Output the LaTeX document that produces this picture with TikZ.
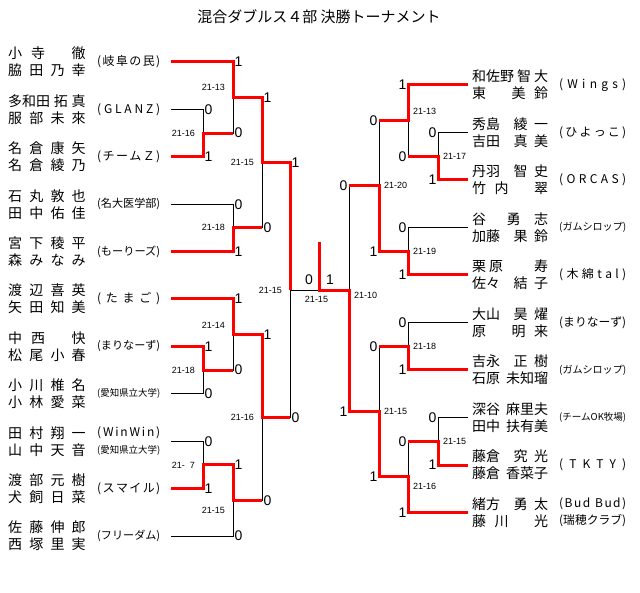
\documentclass[tikz,border=0pt]{standalone}
\usepackage{fontspec}
\usepackage{graphicx}
\newfontfamily\jp{Noto Sans CJK JP}
\newfontfamily\numfont{Liberation Sans}
\newcommand\hs{\hfil}
\newcommand\lnm[1]{\makebox[77.5pt][s]{#1}}
\newcommand\rnm[1]{\makebox[76pt][s]{#1}}
\makeatletter
\def\spread@#1#2\@nil{#1\ifx\relax#2\relax\else\hfil\spread@#2\@nil\fi}
\newcommand\team[2]{\sbox0{#2}\ifdim\wd0>#1\relax\resizebox{#1}{!}{#2}\else\makebox[#1][s]{\spread@#2\@nil}\fi}
\makeatother
\begin{document}
\begin{tikzpicture}[x=1pt,y=-1pt,font=\jp]
  \tikzstyle{names}=[anchor=west,inner sep=0pt,align=left,font=\jp\fontsize{14}{17}\selectfont]
  \tikzstyle{teams}=[anchor=west,inner sep=0pt,align=left,font=\jp\fontsize{12}{17}\selectfont]
  \tikzstyle{lname}=[names,xshift=-163pt]
  \tikzstyle{lteam}=[teams,xshift=-74pt]
  \tikzstyle{rname}=[names,xshift=4pt]
  \tikzstyle{rteam}=[teams,xshift=91pt]
  \tikzstyle{line}=[draw=black,line width=0.9pt]
  \tikzstyle{win}=[draw=red,line width=3pt]
  \tikzstyle{res}=[font=\numfont\fontsize{14}{14}\selectfont,inner sep=1.5pt]
  \tikzstyle{lres}=[res,anchor=west]
  \tikzstyle{rres}=[res,anchor=east]
  \tikzstyle{score}=[font=\numfont\fontsize{9}{9}\selectfont,inner sep=0pt]
  \tikzstyle{lsc}=[score,anchor=east,xshift=-8pt]
  \tikzstyle{rsc}=[score,anchor=west,xshift=5pt]
  \fill[white] (0,0) rectangle (640,593);
  \useasboundingbox (0,0) rectangle (640,593);

  \node (title) at (319,17) {\fontsize{15}{15}\selectfont 混合ダブルス４部 決勝トーナメント};

  % entries
  \foreach \i in {1,...,11}
    \coordinate (e\i) at (171,{62+47.4*(\i-1)});
  \foreach \i in {1,...,10}
    \coordinate (r\i) at (468,{85+47.5*(\i-1)});

  % matches
  \coordinate (mA) at (203,133.1);
  \coordinate (mB) at (233,97.55);
  \coordinate (mC) at (262,162.7);
  \coordinate (mD) at (233,227.9);
  \coordinate (mE) at (203,370.1);
  \coordinate (mF) at (233,334.55);
  \coordinate (mG) at (203,464.9);
  \coordinate (mH) at (233,500.45);
  \coordinate (mI) at (262,417.5);
  \coordinate (mJ) at (290,290.1);
  \coordinate (rA) at (438,156.25);
  \coordinate (rB) at (408,120.6);
  \coordinate (rC) at (408,251.25);
  \coordinate (rD) at (379,185.9);
  \coordinate (rE) at (408,346.25);
  \coordinate (rF) at (438,441.25);
  \coordinate (rG) at (408,476.9);
  \coordinate (rH) at (379,411.6);
  \coordinate (rJ) at (349,290.1);
  \coordinate (fin) at (319.5,290.1);
  \coordinate (champ) at (319.5,242);

  % left players
  \node[lname] (ln1) at (e1) {\lnm{小\hs 寺\hs\hs\hs 徹}\\\lnm{脇\hs 田\hs 乃\hs 幸}};
  \node[lname] (ln2) at (e2) {\lnm{多和田\hs 拓\hs 真}\\\lnm{服\hs 部\hs 未\hs 來}};
  \node[lname] (ln3) at (e3) {\lnm{名\hs 倉\hs 康\hs 矢}\\\lnm{名\hs 倉\hs 綾\hs 乃}};
  \node[lname] (ln4) at (e4) {\lnm{石\hs 丸\hs 敦\hs 也}\\\lnm{田\hs 中\hs 佑\hs 佳}};
  \node[lname] (ln5) at (e5) {\lnm{宮\hs 下\hs 稜\hs 平}\\\lnm{森\hs み\hs な\hs み}};
  \node[lname] (ln6) at (e6) {\lnm{渡\hs 辺\hs 喜\hs 英}\\\lnm{矢\hs 田\hs 知\hs 美}};
  \node[lname] (ln7) at (e7) {\lnm{中\hs 西\hs\hs\hs 快}\\\lnm{松\hs 尾\hs 小\hs 春}};
  \node[lname] (ln8) at (e8) {\lnm{小\hs 川\hs 椎\hs 名}\\\lnm{小\hs 林\hs 愛\hs 菜}};
  \node[lname] (ln9) at (e9) {\lnm{田\hs 村\hs 翔\hs 一}\\\lnm{山\hs 中\hs 天\hs 音}};
  \node[lname] (ln10) at (e10) {\lnm{渡\hs 部\hs 元\hs 樹}\\\lnm{犬\hs 飼\hs 日\hs 菜}};
  \node[lname] (ln11) at (e11) {\lnm{佐\hs 藤\hs 伸\hs 郎}\\\lnm{西\hs 塚\hs 里\hs 実}};
  \node[lteam] (lt1) at (e1) {\team{63pt}{(岐阜の民)}};
  \node[lteam] (lt2) at (e2) {\team{63pt}{(GLANZ)}};
  \node[lteam] (lt3) at (e3) {\team{63pt}{(チームＺ)}};
  \node[lteam] (lt4) at (e4) {\team{63pt}{(名大医学部)}};
  \node[lteam] (lt5) at (e5) {\team{63pt}{(もーりーズ)}};
  \node[lteam] (lt6) at (e6) {\team{63pt}{(たまご)}};
  \node[lteam] (lt7) at (e7) {\team{63pt}{(まりなーず)}};
  \node[lteam] (lt8) at (e8) {\team{63pt}{(愛知県立大学)}};
  \node[lteam] (lt9) at (e9) {\team{63pt}{(WinWin)}\\\team{63pt}{(愛知県立大学)}};
  \node[lteam] (lt10) at (e10) {\team{63pt}{(スマイル)}};
  \node[lteam] (lt11) at (e11) {\team{63pt}{(フリーダム)}};

  % right players
  \node[rname] (rn1) at (r1) {\rnm{和佐野\hs 智\hs 大}\\\rnm{東\hs\hs\hs 美\hs 鈴}};
  \node[rname] (rn2) at (r2) {\rnm{秀島\hs\hs 綾\hs 一}\\\rnm{吉田\hs\hs 真\hs 美}};
  \node[rname] (rn3) at (r3) {\rnm{丹羽\hs\hs 智\hs 史}\\\rnm{竹\hs 内\hs\hs\hs 翠}};
  \node[rname] (rn4) at (r4) {\rnm{谷\hs\hs\hs 勇\hs\hs 志}\\\rnm{加藤\hs\hs 果\hs 鈴}};
  \node[rname] (rn5) at (r5) {\rnm{栗\hspace{3pt}原\hfill 寿}\\\rnm{佐々\hs\hs 結\hs 子}};
  \node[rname] (rn6) at (r6) {\rnm{大山\hs\hs 昊\hs 燿}\\\rnm{原\hs\hs\hs 明\hs 来}};
  \node[rname] (rn7) at (r7) {\rnm{吉永\hs\hs 正\hs 樹}\\\rnm{石原\hs 未知瑠}};
  \node[rname] (rn8) at (r8) {\rnm{深谷\hs 麻里夫}\\\rnm{田中\hs 扶有美}};
  \node[rname] (rn9) at (r9) {\rnm{藤倉\hs\hs 究\hs 光}\\\rnm{藤倉\hs 香菜子}};
  \node[rname] (rn10) at (r10) {\rnm{緒方\hs\hs 勇\hs 太}\\\rnm{藤\hs 川\hs\hs\hs 光}};
  \node[rteam] (rt1) at (r1) {\team{67pt}{(Wings)}};
  \node[rteam] (rt2) at (r2) {\team{67pt}{(ひよっこ)}};
  \node[rteam] (rt3) at (r3) {\team{67pt}{(ORCAS)}};
  \node[rteam] (rt4) at (r4) {\team{67pt}{(ガムシロップ)}};
  \node[rteam] (rt5) at (r5) {\team{67pt}{(木綿tal)}};
  \node[rteam] (rt6) at (r6) {\team{67pt}{(まりなーず)}};
  \node[rteam] (rt7) at (r7) {\team{67pt}{(ガムシロップ)}};
  \node[rteam] (rt8) at (r8) {\team{67pt}{(チームOK牧場)}};
  \node[rteam] (rt9) at (r9) {\team{67pt}{(TKTY)}};
  \node[rteam] (rt10) at (r10) {\team{67pt}{(Bud\,Bud)}\\\team{67pt}{(瑞穂クラブ)}};

  % bracket, left half
  \draw[line] (e2) -| (mA);  \draw[line] (e3) -| (mA);
  \draw[line] (e1) -| (mB);  \draw[line] (mA) -| (mB);
  \draw[line] (e4) -| (mD);  \draw[line] (e5) -| (mD);
  \draw[line] (mB) -| (mC);  \draw[line] (mD) -| (mC);
  \draw[line] (e7) -| (mE);  \draw[line] (e8) -| (mE);
  \draw[line] (e6) -| (mF);  \draw[line] (mE) -| (mF);
  \draw[line] (e9) -| (mG);  \draw[line] (e10) -| (mG);
  \draw[line] (mG) -| (mH);  \draw[line] (e11) -| (mH);
  \draw[line] (mF) -| (mI);  \draw[line] (mH) -| (mI);
  \draw[line] (mC) -| (mJ);  \draw[line] (mI) -| (mJ);
  \draw[line] (mJ) -- (fin);
  % bracket, right half
  \draw[line] (r2) -| (rA);  \draw[line] (r3) -| (rA);
  \draw[line] (r1) -| (rB);  \draw[line] (rA) -| (rB);
  \draw[line] (r4) -| (rC);  \draw[line] (r5) -| (rC);
  \draw[line] (rB) -| (rD);  \draw[line] (rC) -| (rD);
  \draw[line] (r6) -| (rE);  \draw[line] (r7) -| (rE);
  \draw[line] (r8) -| (rF);  \draw[line] (r9) -| (rF);
  \draw[line] (rF) -| (rG);  \draw[line] (r10) -| (rG);
  \draw[line] (rE) -| (rH);  \draw[line] (rG) -| (rH);
  \draw[line] (rD) -| (rJ);  \draw[line] (rH) -| (rJ);
  \draw[line] (rJ) -- (fin);

  % winners
  \draw[win] (e3) -| (mA) -- (mA -| mB);
  \draw[win] (e1) -| (mB) -| (mC) -| (mJ);
  \draw[win] (e5) -| (mD) -- (mD -| mC);
  \draw[win] (e7) -| (mE) -- (mE -| mF);
  \draw[win] (e6) -| (mF) -| (mI) -- (mI -| mJ);
  \draw[win] (e10) -| (mG) -| (mH) -- (mH -| mI);
  \draw[win] (r3) -| (rA) -- (rA -| rB);
  \draw[win] (r1) -| (rB) -- (rB -| rD);
  \draw[win] (r5) -| (rC) -| (rD) -- (rD -| rJ);
  \draw[win] (r7) -| (rE) -- (rE -| rH);
  \draw[win] (r9) -| (rF) -- (rF -| rG);
  \draw[win] (r10) -| (rG) -| (rH) -| (rJ) -- (fin) -- (champ);

  % results
  \node[lres] (A-u) at (mA |- e2) {0};
  \node[lres] (A-d) at (mA |- e3) {1};
  \node[lres] (B-u) at (mB |- e1) {1};
  \node[lres] (B-d) at (mB |- mA) {0};
  \node[lres] (D-u) at (mD |- e4) {0};
  \node[lres] (D-d) at (mD |- e5) {1};
  \node[lres] (C-u) at (mC |- mB) {1};
  \node[lres] (C-d) at (mC |- mD) {0};
  \node[lres] (E-u) at (mE |- e7) {1};
  \node[lres] (E-d) at (mE |- e8) {0};
  \node[lres] (F-u) at (mF |- e6) {1};
  \node[lres] (F-d) at (mF |- mE) {0};
  \node[lres] (G-u) at (mG |- e9) {0};
  \node[lres] (G-d) at (mG |- e10) {1};
  \node[lres] (H-u) at (mH |- mG) {1};
  \node[lres] (H-d) at (mH |- e11) {0};
  \node[lres] (I-u) at (mI |- mF) {1};
  \node[lres] (I-d) at (mI |- mH) {0};
  \node[lres] (J-u) at (mJ |- mC) {1};
  \node[lres] (J-d) at (mJ |- mI) {0};
  \node[rres] (rA-u) at (rA |- r2) {0};
  \node[rres] (rA-d) at (rA |- r3) {1};
  \node[rres] (rB-u) at (rB |- r1) {1};
  \node[rres] (rB-d) at (rB |- rA) {0};
  \node[rres] (rC-u) at (rC |- r4) {0};
  \node[rres] (rC-d) at (rC |- r5) {1};
  \node[rres] (rD-u) at (rD |- rB) {0};
  \node[rres] (rD-d) at (rD |- rC) {1};
  \node[rres] (rE-u) at (rE |- r6) {0};
  \node[rres] (rE-d) at (rE |- r7) {1};
  \node[rres] (rF-u) at (rF |- r8) {0};
  \node[rres] (rF-d) at (rF |- r9) {1};
  \node[rres] (rG-u) at (rG |- rF) {0};
  \node[rres] (rG-d) at (rG |- r10) {1};
  \node[rres] (rH-u) at (rH |- rE) {0};
  \node[rres] (rH-d) at (rH |- rG) {1};
  \node[rres] (rJ-u) at (rJ |- rD) {0};
  \node[rres] (rJ-d) at (rJ |- rH) {1};
  \node[res,anchor=south] (fin-l) at ([xshift=-10.5pt,yshift=4pt]fin) {0};
  \node[res,anchor=south] (fin-r) at ([xshift=10.5pt,yshift=4pt]fin) {1};

  % scores
  \node[lsc] (sA) at (mA) {21-16};
  \node[lsc,yshift=10pt] (sB) at (mB) {21-13};
  \node[lsc] (sC) at (mC) {21-15};
  \node[lsc] (sD) at (mD) {21-18};
  \node[lsc] (sE) at (mE) {21-18};
  \node[lsc,yshift=9pt] (sF) at (mF) {21-14};
  \node[lsc] (sG) at (mG) {21-\hphantom{0}7};
  \node[lsc,yshift=-10pt] (sH) at (mH) {21-15};
  \node[lsc] (sI) at (mI) {21-16};
  \node[lsc] (sJ) at (mJ) {21-15};
  \node[rsc] (sRA) at (rA) {21-17};
  \node[rsc,yshift=9pt] (sRB) at (rB) {21-13};
  \node[rsc] (sRC) at (rC) {21-19};
  \node[rsc] (sRD) at (rD) {21-20};
  \node[rsc] (sRE) at (rE) {21-18};
  \node[rsc] (sRF) at (rF) {21-15};
  \node[rsc,yshift=-10pt] (sRG) at (rG) {21-16};
  \node[rsc] (sRH) at (rH) {21-15};
  \node[rsc,yshift=-5pt] (sRJ) at (rJ) {21-10};
  \node[score,anchor=north] (sFin) at ([xshift=-3pt,yshift=-6pt]fin) {21-15};
\end{tikzpicture}
\end{document}
